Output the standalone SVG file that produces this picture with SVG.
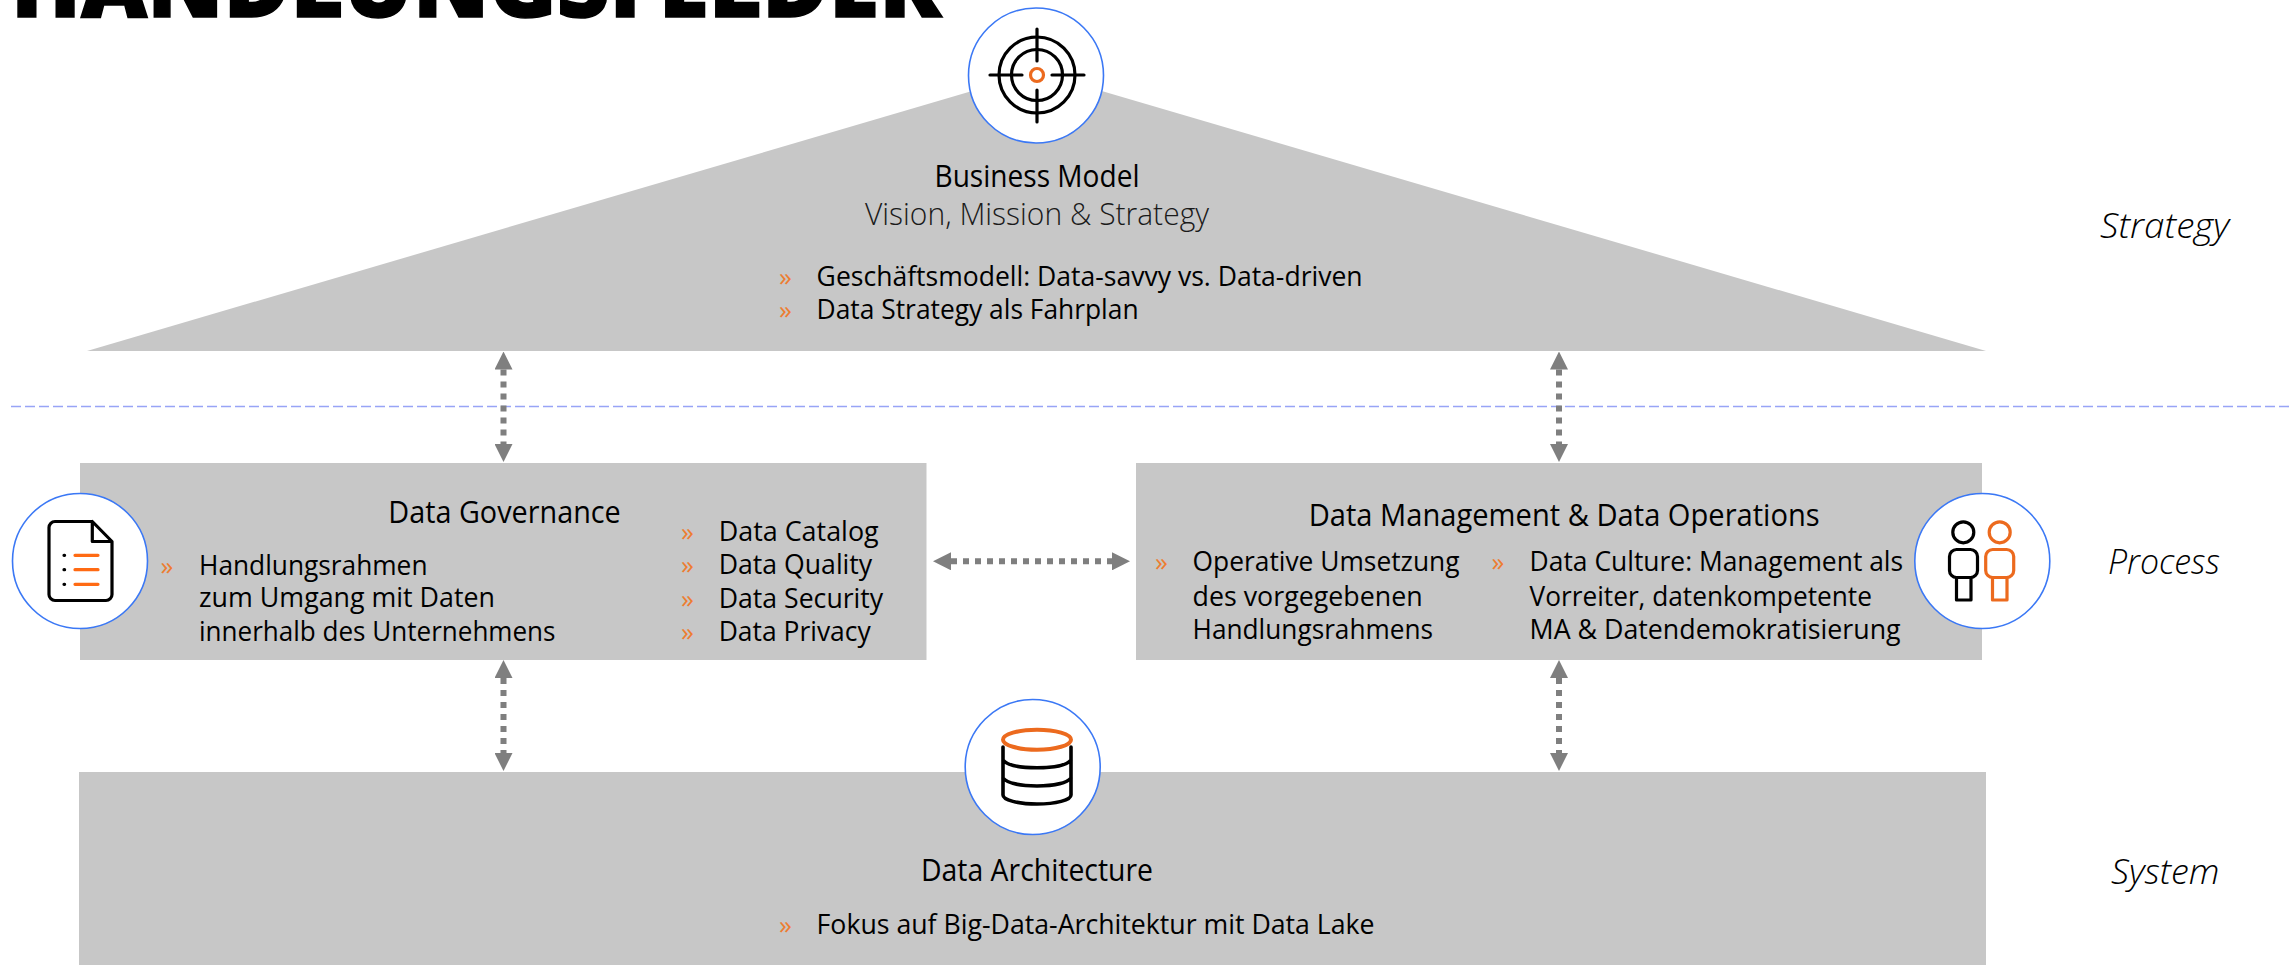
<svg xmlns="http://www.w3.org/2000/svg" width="2290" height="965" viewBox="0 0 2290 965">
<style>
text{font-family:"Open Sans","Noto Sans","Liberation Sans",sans-serif;fill:#000}
.panel{fill:#c7c7c7}
.badge{fill:#fff;stroke:#3b78f5;stroke-width:1.6}
.t{font-size:27px;font-weight:400}
.h{font-size:31px;font-weight:400}
.sub{font-size:31px;font-weight:300;fill:#1a1a1a}
.b{font-size:26px;fill:#ed7d31;font-weight:400}
.side{font-size:35px;font-weight:300;font-style:italic;fill:#000}
.ik{fill:none;stroke:#000;stroke-width:3.2;stroke-linecap:round;stroke-linejoin:round}
.io{fill:none;stroke:#ec6a1e;stroke-width:3.2;stroke-linecap:round;stroke-linejoin:round}
.ar{fill:none;stroke:#7f7f7f;stroke-width:6;stroke-dasharray:6 6;marker-start:url(#ah);marker-end:url(#ah)}
</style>
<defs>
<marker id="ah" markerUnits="userSpaceOnUse" markerWidth="18" markerHeight="18" refX="0" refY="9" orient="auto-start-reverse" viewBox="0 0 18 18"><path d="M0 0L18 9L0 18Z" fill="#7f7f7f"/></marker>
</defs>
<text x="11" y="17" font-size="92" style="font-weight:800;stroke:#000;stroke-width:1.5" textLength="930" lengthAdjust="spacingAndGlyphs">HANDLUNGSFELDER</text>
<line x1="11" y1="406.500" x2="2290" y2="406.500" stroke="#98a4f6" stroke-width="1.600" stroke-dasharray="10 4"/>
<g id="business-model">
<polygon class="panel" points="1037,72 1986,351 87,351"/>
<circle class="badge" cx="1036" cy="75.500" r="67.500"/>
<circle class="ik" cx="1037" cy="75" r="38"/><circle class="ik" cx="1037" cy="75" r="25.500"/>
<path class="ik" d="M990 75H1022M1052 75H1084M1037 29V61M1037 90V122"/>
<circle class="io" cx="1037" cy="75" r="6.500"/>
<text class="h" x="1037" y="186.700" text-anchor="middle" textLength="205" lengthAdjust="spacingAndGlyphs">Business Model</text>
<text class="sub" x="1037" y="225" text-anchor="middle" textLength="344" lengthAdjust="spacingAndGlyphs">Vision, Mission &amp; Strategy</text>
<text class="b" x="779" y="285.700">»</text><text class="t" x="816.600" y="285.700" textLength="546" lengthAdjust="spacingAndGlyphs">Geschäftsmodell: Data-savvy vs. Data-driven</text>
<text class="b" x="779" y="319.300">»</text><text class="t" x="816.600" y="319.300" textLength="322" lengthAdjust="spacingAndGlyphs">Data Strategy als Fahrplan</text>
</g>
<g id="data-governance">
<rect class="panel" x="80" y="463" width="846.500" height="197"/>
<circle class="badge" cx="80" cy="561" r="67.500"/>
<path class="ik" d="M92.300 521.500H55a6 6 0 0 0-6 6V594.500a6 6 0 0 0 6 6H106a6 6 0 0 0 6-6V541.500L92.300 521.500V541.500H112"/>
<path class="ik" d="M64 555.300h.6M64 569.700h.6M64 584.300h.6"/>
<path class="io" style="stroke:#ff6a13" d="M75 555.300H98M75 569.700H98M75 584.300H98"/>
<text class="h" x="388.300" y="523" textLength="232.500" lengthAdjust="spacingAndGlyphs">Data Governance</text>
<text class="b" x="160.400" y="574.600">»</text>
<text class="t" x="199" y="574.600" textLength="228.500" lengthAdjust="spacingAndGlyphs">Handlungsrahmen</text>
<text class="t" x="199" y="607.400" textLength="296" lengthAdjust="spacingAndGlyphs">zum Umgang mit Daten</text>
<text class="t" x="199" y="641" textLength="356.500" lengthAdjust="spacingAndGlyphs">innerhalb des Unternehmens</text>
<text class="b" x="681" y="540.800">»</text><text class="t" x="718.700" y="540.800" textLength="160" lengthAdjust="spacingAndGlyphs">Data Catalog</text>
<text class="b" x="681" y="573.600">»</text><text class="t" x="718.700" y="573.600" textLength="153.500" lengthAdjust="spacingAndGlyphs">Data Quality</text>
<text class="b" x="681" y="607.700">»</text><text class="t" x="718.700" y="607.700" textLength="164.500" lengthAdjust="spacingAndGlyphs">Data Security</text>
<text class="b" x="681" y="640.500">»</text><text class="t" x="718.700" y="640.500" textLength="152" lengthAdjust="spacingAndGlyphs">Data Privacy</text>
</g>
<g id="data-management">
<rect class="panel" x="1136" y="463" width="846" height="197"/>
<circle class="badge" cx="1982.300" cy="561" r="67.500"/>
<circle class="ik" cx="1963.300" cy="532.300" r="10.500"/>
<rect class="ik" x="1949.500" y="549.500" width="28" height="28" rx="7"/>
<path class="ik" d="M1956.500 577.700V600H1971V577.700"/>
<circle class="io" cx="1999.700" cy="532.300" r="10.500"/>
<rect class="io" x="1985.700" y="549.500" width="28" height="28" rx="7"/>
<path class="io" d="M1992.500 577.700V600H2007V577.700"/>
<text class="h" x="1308.700" y="526" textLength="511" lengthAdjust="spacingAndGlyphs">Data Management &amp; Data Operations</text>
<text class="b" x="1155" y="571">»</text>
<text class="t" x="1192.600" y="571" textLength="267" lengthAdjust="spacingAndGlyphs">Operative Umsetzung</text>
<text class="t" x="1192.600" y="605.500" textLength="230" lengthAdjust="spacingAndGlyphs">des vorgegebenen</text>
<text class="t" x="1192.600" y="639" textLength="240.500" lengthAdjust="spacingAndGlyphs">Handlungsrahmens</text>
<text class="b" x="1491.400" y="571">»</text>
<text class="t" x="1529.600" y="571" textLength="373.500" lengthAdjust="spacingAndGlyphs">Data Culture: Management als</text>
<text class="t" x="1529.600" y="605.500" textLength="342.300" lengthAdjust="spacingAndGlyphs">Vorreiter, datenkompetente</text>
<text class="t" x="1529.600" y="639" textLength="371" lengthAdjust="spacingAndGlyphs">MA &amp; Datendemokratisierung</text>
</g>
<g id="data-architecture">
<rect class="panel" x="79" y="772" width="1907" height="193"/>
<circle class="badge" cx="1032.700" cy="767" r="67.500"/>
<path class="ik" style="stroke-width:3.600" d="M1003 747V795C1003 800 1018 804 1037 804S1071 800 1071 795V747M1003 760C1007 765 1020 767.700 1037 767.700S1067 765 1071 760M1003 778C1007 783 1020 786 1037 786S1067 783 1071 778"/>
<ellipse class="io" style="stroke-width:4" cx="1037" cy="739.700" rx="34" ry="10"/>
<text class="h" x="921" y="880.600" textLength="232" lengthAdjust="spacingAndGlyphs">Data Architecture</text>
<text class="b" x="779" y="934">»</text><text class="t" x="816.600" y="934" textLength="558" lengthAdjust="spacingAndGlyphs">Fokus auf Big-Data-Architektur mit Data Lake</text>
</g>
<g id="connectors">
<path class="ar" d="M503.500 369.500V444"/>
<path class="ar" d="M1559 369.500V444"/>
<path class="ar" d="M503.500 678V753"/>
<path class="ar" d="M1559 678V753"/>
<path class="ar" d="M951 561.300H1112"/>
</g>
<text class="side" x="2100" y="238" textLength="129" lengthAdjust="spacingAndGlyphs">Strategy</text>
<text class="side" x="2108" y="574" textLength="112" lengthAdjust="spacingAndGlyphs">Process</text>
<text class="side" x="2111" y="884" textLength="108.500" lengthAdjust="spacingAndGlyphs">System</text>
</svg>
